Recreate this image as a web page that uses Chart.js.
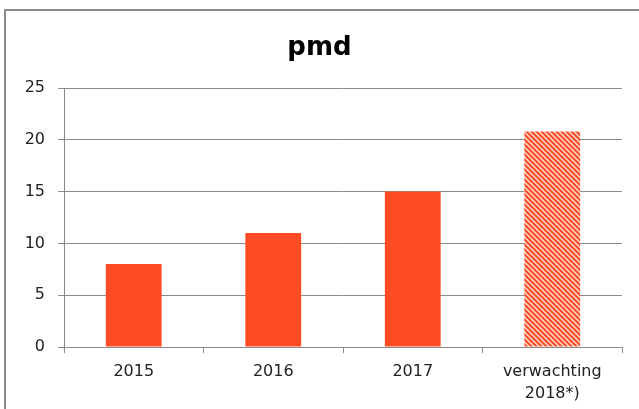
<!DOCTYPE html>
<html>
<head>
<meta charset="utf-8">
<script src="https://cdn.jsdelivr.net/npm/chart.js@4.4.0/dist/chart.umd.min.js"></script>
<style>
  html, body { margin: 0; padding: 0; background: #fff; }
  #wrap { position: relative; width: 639px; height: 409px; }
  #frame {
    position: absolute; left: 4px; top: 9px; right: -4px; bottom: -4px;
    border-left: 2px solid #8a8a8a; border-top: 2px solid #8a8a8a;
  }
  canvas { position: absolute; left: 0; top: 0; }
</style>
</head>
<body>
<div id="wrap">
  <div id="frame"></div>
  <canvas id="chart" width="639" height="409"></canvas>
</div>
<script>
const years = ['2015', '2016', '2017', ['verwachting', '2018*)']];
const pmdValues = [8, 11, 15, 20.8];
const yTicks = [0, 5, 10, 15, 20, 25];

const barColor = '#ff4b23';

// diagonal hatch for the forecast bar
function makeHatch() {
  const size = 5;
  const c = document.createElement('canvas');
  c.width = size;
  c.height = size;
  const ctx = c.getContext('2d');
  ctx.fillStyle = '#ffd9cf';
  ctx.fillRect(0, 0, size, size);
  ctx.strokeStyle = barColor;
  ctx.lineWidth = 2;
  ctx.beginPath();
  ctx.moveTo(-1, -1); ctx.lineTo(size + 1, size + 1);
  ctx.moveTo(-1, size - 1); ctx.lineTo(1, size + 1);
  ctx.moveTo(size - 1, -1); ctx.lineTo(size + 1, 1);
  ctx.stroke();
  return ctx.createPattern(c, 'repeat');
}

const ctx = document.getElementById('chart').getContext('2d');
const hatch = makeHatch();
const tickFont = { family: 'DejaVu Sans', size: 16 };

new Chart(ctx, {
  type: 'bar',
  data: {
    labels: years,
    datasets: [{
      label: 'pmd',
      data: pmdValues,
      backgroundColor: pmdValues.map((v, i) => i === pmdValues.length - 1 ? hatch : barColor),
      barPercentage: 0.4,
      categoryPercentage: 1
    }]
  },
  options: {
    responsive: false,
    animation: false,
    layout: { padding: { left: 17, right: 17, top: 0, bottom: 0 } },
    plugins: {
      legend: { display: false },
      tooltip: { enabled: false },
      title: {
        display: true,
        text: 'pmd',
        color: '#000',
        font: { family: 'DejaVu Sans', size: 26, weight: 'bold', lineHeight: 1.2 },
        padding: { top: 33, bottom: 23.8 }
      }
    },
    scales: {
      x: {
        grid: {
          display: true,
          drawOnChartArea: false,
          drawTicks: true,
          tickLength: 6,
          color: '#8a8a8a'
        },
        border: { color: '#8a8a8a' },
        ticks: {
          color: '#222',
          font: Object.assign({ lineHeight: 1.35 }, tickFont),
          padding: 8,
          maxRotation: 0,
          autoSkip: false
        },
        afterFit: s => { s.height = 62; }
      },
      y: {
        min: 0,
        max: 25,
        afterBuildTicks: s => { s.ticks = yTicks.map(v => ({ value: v })); },
        grid: {
          color: '#8a8a8a',
          tickLength: 6
        },
        border: { color: '#8a8a8a' },
        ticks: {
          color: '#222',
          font: tickFont,
          padding: 13
        },
        afterFit: s => { s.width = 47; }
      }
    }
  }
});
</script>
</body>
</html>
